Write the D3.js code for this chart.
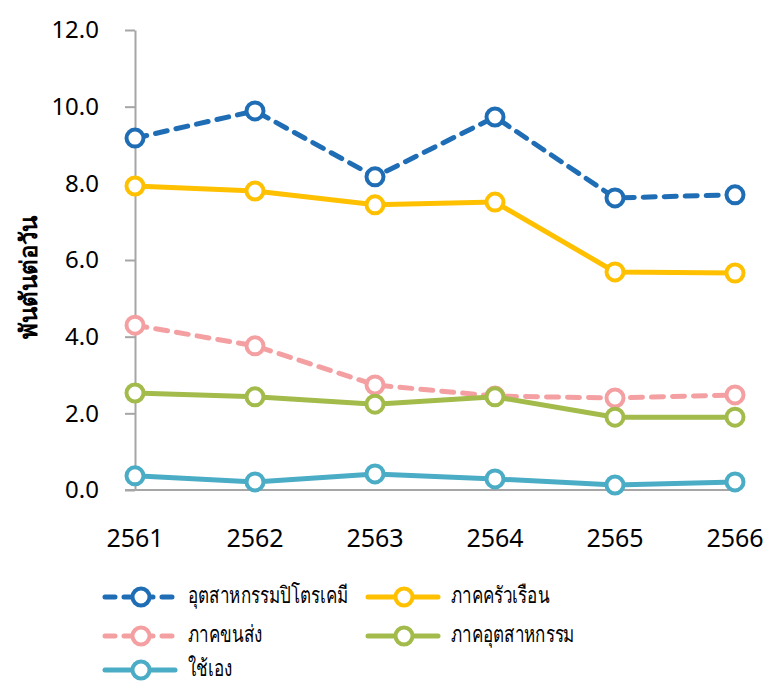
<!DOCTYPE html>
<meta charset="utf-8">
<style>
    body { margin: 0; background: #fff; }
    text { font-family: "Noto Sans", "DejaVu Sans", sans-serif; fill: #000; }
    .axis path, .axis line { stroke: #a6a6a6; stroke-width: 2px; }
</style>
<svg id="chart" width="766" height="684"></svg>
<script src="https://cdn.jsdelivr.net/npm/d3@7/dist/d3.min.js"></script>
<script>

    // years (Thai Buddhist era)
    var years = ["2561", "2562", "2563", "2564", "2565", "2566"];

    // thousand tonnes per day
    var petrochem = [9.18, 9.89, 8.17, 9.73, 7.62, 7.70];
    var household = [7.93, 7.80, 7.44, 7.51, 5.69, 5.66];
    var transport = [4.30, 3.76, 2.74, 2.45, 2.40, 2.48];
    var industry  = [2.53, 2.43, 2.24, 2.43, 1.90, 1.90];
    var selfUse   = [0.37, 0.21, 0.42, 0.29, 0.13, 0.21];

    var seriesNames = ["อุตสาหกรรมปิโตรเคมี", "ภาคครัวเรือน", "ภาคขนส่ง", "ภาคอุตสาหกรรม", "ใช้เอง"];
    var yTicks = [0, 2, 4, 6, 8, 10, 12];

    var series = [
        {name: seriesNames[0], values: petrochem, color: "#1f6db5", dash: "12,9"},
        {name: seriesNames[1], values: household, color: "#ffc000", dash: null},
        {name: seriesNames[2], values: transport, color: "#f4a0a2", dash: "12,9"},
        {name: seriesNames[3], values: industry,  color: "#a2bb4b", dash: null},
        {name: seriesNames[4], values: selfUse,   color: "#4bacc6", dash: null}
    ];

    var svg = d3.select("#chart");

    var x = d3.scalePoint().domain(years).range([135, 735]);
    var y = d3.scaleLinear().domain([0, 12]).range([490, 30]);

    // y axis
    var yAxis = svg.append("g").attr("class", "axis")
        .attr("transform", "translate(135,0)")
        .call(d3.axisLeft(y).tickValues(yTicks).tickSize(10).tickSizeOuter(0).tickPadding(26)
            .tickFormat(d3.format(".1f")));
    yAxis.selectAll("text").style("font-size", "24px").attr("fill", "#000");

    // x axis line only
    svg.append("line")
        .attr("x1", 125).attr("x2", 738)
        .attr("y1", y(0)).attr("y2", y(0))
        .style("stroke", "#a6a6a6").style("stroke-width", "2px");

    svg.selectAll(".xlab")
        .data(years)
        .enter()
        .append("text")
        .attr("class", "xlab")
        .attr("x", d => x(d))
        .attr("y", 547)
        .attr("text-anchor", "middle")
        .style("font-size", "25px")
        .text(d => d);

    // y title
    svg.append("text")
        .attr("transform", "translate(37,277) rotate(-90)")
        .attr("text-anchor", "middle")
        .style("font-size", "24px")
        .style("font-weight", "bold")
        .text("พันตันต่อวัน");

    var line = d3.line()
        .x((d, i) => x(years[i]))
        .y(d => y(d));

    series.forEach(function(s) {
        var g = svg.append("g");
        g.append("path")
            .datum(s.values)
            .attr("d", line)
            .style("fill", "none")
            .style("stroke", s.color)
            .style("stroke-width", "5px")
            .style("stroke-dasharray", s.dash)
            .style("stroke-linecap", s.dash ? "round" : "butt");
        g.selectAll("circle")
            .data(s.values)
            .enter()
            .append("circle")
            .attr("cx", (d, i) => x(years[i]))
            .attr("cy", d => y(d))
            .attr("r", 8.5)
            .style("fill", "#fff")
            .style("stroke", s.color)
            .style("stroke-width", "4px");
    });

    // legend
    var legendPos = [[105, 597], [368, 597], [105, 636], [368, 636], [105, 670]];
    series.forEach(function(s, i) {
        var lx = legendPos[i][0], ly = legendPos[i][1];
        var lg = svg.append("g");
        lg.append("line")
            .attr("x1", lx).attr("x2", lx + 70)
            .attr("y1", ly).attr("y2", ly)
            .style("stroke", s.color)
            .style("stroke-width", "5px")
            .style("stroke-dasharray", s.dash ? "10,9" : null)
            .style("stroke-linecap", "round");
        lg.append("circle")
            .attr("cx", lx + 36).attr("cy", ly)
            .attr("r", 8.5)
            .style("fill", "#fff")
            .style("stroke", s.color)
            .style("stroke-width", "4px");
        var t = lg.append("text")
            .attr("x", lx + 83)
            .attr("y", ly + 6)
            .style("font-size", "23px")
            .text(s.name);
        // the fallback Thai face is wider than the original one, squeeze it a bit
        var w = t.node().getComputedTextLength();
        t.attr("textLength", w * 0.74).attr("lengthAdjust", "spacingAndGlyphs");
    });

</script>
